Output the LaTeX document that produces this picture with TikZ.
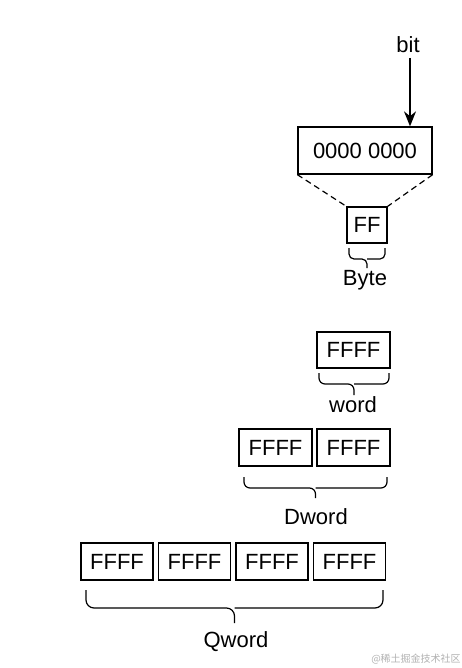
\documentclass[tikz,border=0pt]{standalone}
\usepackage{fontspec}
\setmainfont{Liberation Sans}
\newfontfamily\cjk{Noto Sans CJK SC}
\usetikzlibrary{arrows.meta}
\def\curlydown(#1:#2:#3)(#4:#5:#6){\draw[line width=1.2pt, rounded corners=#3] (#1,#4) -- (#1,#5) -- ({(#1+#2)/2},#5) -- ({(#1+#2)/2},#6); \draw[line width=1.2pt, rounded corners=#3] (#2,#4) -- (#2,#5) -- ({(#1+#2)/2},#5);}

\begin{document}
\begin{tikzpicture}[x=1pt, y=-1pt,
		cell/.style={draw, line width=1.3pt, inner sep=0pt, font=\fontsize{22}{26}\selectfont},
		lbl/.style={inner sep=0pt, font=\fontsize{22}{26}\selectfont}]
		%%%%% START %%%%%
		
		\useasboundingbox[fill=white] (0, 0) rectangle (462, 668);
		
		% bit and byte
		\node[lbl] (bitlabel) at (408, 45) {bit};
		\coordinate (bitstart) at (410, 58);
		\node[cell, minimum width=134pt, minimum height=47pt] (bits) at (365, 150.5) {0000 0000};
		\draw[line width=1.3pt, -{Stealth[length=15pt, width=12pt]}] (bitstart) -- (bitstart |- bits.north);
		
		\node[cell, minimum width=40pt, minimum height=36pt] (byte) at (367, 225) {FF};
		\draw[line width=1.2pt, dash pattern=on 6pt off 4pt] (bits.south west) -- (byte.north west);
		\draw[line width=1.2pt, dash pattern=on 6pt off 4pt] (bits.south east) -- (byte.north east);
		
		\curlydown(349:385:5pt)(248:259:268)
		\node[lbl] (bytelabel) at (365, 280) {Byte};
		
		% word
		\node[cell, minimum width=73pt, minimum height=36pt] (w1) at (353.5, 350) {FFFF};
		\curlydown(319:389:6pt)(373:384:395)
		\node[lbl] (wordlabel) at (353, 405) {word};
		
		% dword
		\node[cell, minimum width=73pt, minimum height=37pt] (d1) at (275.5, 447.5) {FFFF};
		\node[cell, minimum width=73pt, minimum height=37pt] (d2) at (353.5, 447.5) {FFFF};
		\curlydown(244:387:6pt)(477:488:498)
		\node[lbl] (dwordlabel) at (316, 517) {Dword};
		
		% qword
		\node[cell, minimum width=72pt, minimum height=37pt] (q1) at (117, 561.5) {FFFF};
		\node[cell, minimum width=72pt, minimum height=37pt] (q2) at (194.5, 561.5) {FFFF};
		\node[cell, minimum width=72pt, minimum height=37pt] (q3) at (272, 561.5) {FFFF};
		\node[cell, minimum width=72pt, minimum height=37pt] (q4) at (349.5, 561.5) {FFFF};
		\curlydown(86:383:8pt)(590:608:623)
		\node[lbl] (qwordlabel) at (236, 642) {Qword};
		
		\node[inner sep=0pt, text=black!30, font=\cjk\fontsize{10}{12}\selectfont] (mark) at (416, 659) {@稀土掘金技术社区};
		
		%%%%% END %%%%%
	\end{tikzpicture}
\end{document}
